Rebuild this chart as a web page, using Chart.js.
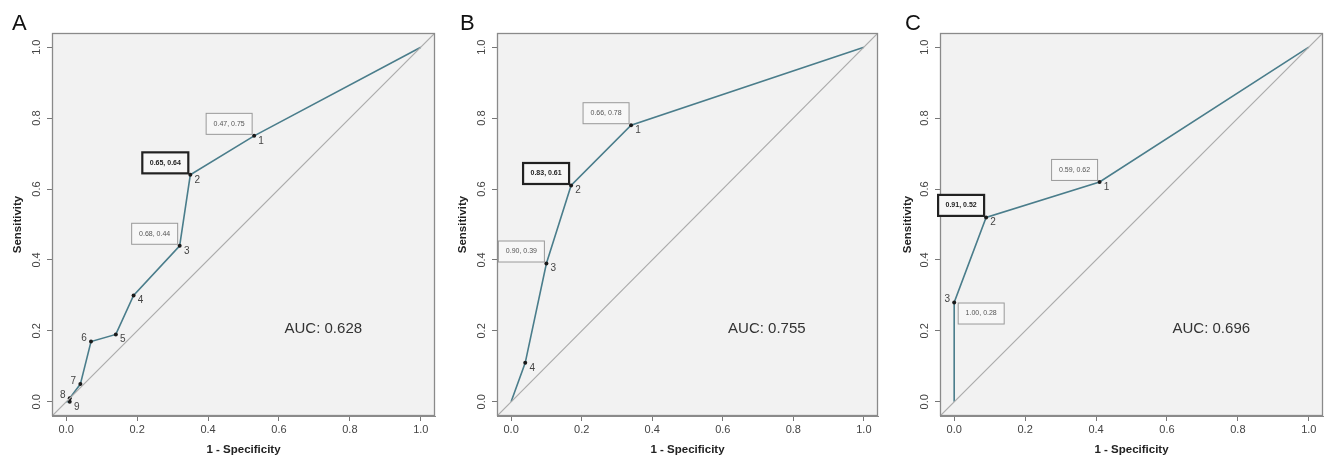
<!DOCTYPE html>
<html><head><meta charset="utf-8">
<script src="https://cdn.jsdelivr.net/npm/chart.js@4"></script>
<style>
html,body{margin:0;padding:0;background:#fff}
body{width:1333px;height:462px;overflow:hidden;position:relative}
.p{position:absolute;top:0;height:462px}
</style></head><body>
<div class="p" style="left:0;width:445px"><canvas id="cA"></canvas></div>
<div class="p" style="left:445px;width:445px"><canvas id="cB"></canvas></div>
<div class="p" style="left:890px;width:443px"><canvas id="cC"></canvas></div>
<script>
// ---- data ----
const tickValues = [0, 0.2, 0.4, 0.6, 0.8, 1.0];
const tickLabels = ['0.0', '0.2', '0.4', '0.6', '0.8', '1.0'];

// Panel A
const fprA = [0, 0.01, 0.01, 0.04, 0.07, 0.14, 0.19, 0.32, 0.35, 0.53, 1];
const tprA = [0, 0.00, 0.01, 0.05, 0.17, 0.19, 0.30, 0.44, 0.64, 0.75, 1];
const idsA = ['', '9', '8', '7', '6', '5', '4', '3', '2', '1', ''];
const thrA = ['0.47, 0.75', '0.65, 0.64', '0.68, 0.44'];
const aucA = '0.628';

// Panel B
const fprB = [0, 0.04, 0.10, 0.17, 0.34, 1];
const tprB = [0, 0.11, 0.39, 0.61, 0.78, 1];
const idsB = ['', '4', '3', '2', '1', ''];
const thrB = ['0.66, 0.78', '0.83, 0.61', '0.90, 0.39'];
const aucB = '0.755';

// Panel C
const fprC = [0, 0.00, 0.09, 0.41, 1];
const tprC = [0, 0.28, 0.52, 0.62, 1];
const idsC = ['', '3', '2', '1', ''];
const thrC = ['0.59, 0.62', '0.91, 0.52', '1.00, 0.28'];
const aucC = '0.696';

// ---- drawing ----
const LINE = '#4a7d8b';
const FONT = 'Arial, "Liberation Sans", sans-serif';

const rocPlugin = {
  id: 'roc',
  beforeDraw(chart, args, o) {
    const a = chart.chartArea, ctx = chart.ctx;
    ctx.save();
    ctx.fillStyle = '#f2f2f2';
    ctx.fillRect(a.left, a.top, a.right - a.left, a.bottom - a.top);
    ctx.restore();
  },
  afterDraw(chart, args, o) {
    const a = chart.chartArea, ctx = chart.ctx;
    const xs = chart.scales.x, ys = chart.scales.y;
    ctx.save();
    // box
    ctx.strokeStyle = '#8a8a8a'; ctx.lineWidth = 1.3;
    ctx.strokeRect(a.left + 0.5, a.top + 0.5, a.right - a.left - 1, a.bottom - a.top - 1);
    // rotated y tick labels (R style)
    ctx.fillStyle = '#444';
    ctx.font = '11px ' + FONT;
    ctx.textAlign = 'center'; ctx.textBaseline = 'middle';
    tickValues.forEach((v, i) => {
      ctx.save();
      ctx.translate(a.left - 15, ys.getPixelForValue(v));
      ctx.rotate(-Math.PI / 2);
      ctx.fillText(tickLabels[i], 0, 0);
      ctx.restore();
    });
    // panel letter
    ctx.fillStyle = '#111';
    ctx.font = '22px ' + FONT;
    ctx.textAlign = 'left'; ctx.textBaseline = 'alphabetic';
    ctx.fillText(o.letter, o.letterX, 30);
    // point numbers
    ctx.font = '10px ' + FONT;
    ctx.fillStyle = '#444';
    ctx.textAlign = 'center'; ctx.textBaseline = 'middle';
    o.fpr.forEach((f, i) => {
      const id = o.ids[i];
      if (!id) return;
      const px = xs.getPixelForValue(f), py = ys.getPixelForValue(o.tpr[i]);
      const left = (o.numLeft || []).includes(id);
      ctx.fillText(id, px + (left ? -7 : 7), py + (left ? -3 : 5));
    });
    // threshold boxes (points 1,2,3)
    o.thr.forEach((t, k) => {
      const id = String(k + 1);
      const i = o.ids.indexOf(id);
      const px = xs.getPixelForValue(o.fpr[i]), py = ys.getPixelForValue(o.tpr[i]);
      const lr = (o.boxLR || []).includes(id);
      const cx = px + (lr ? 27 : -25), cy = py + (lr ? 11 : -12);
      const w = 46, h = 21;
      const best = k === o.best;
      ctx.fillStyle = '#f7f7f7';
      ctx.fillRect(cx - w / 2, cy - h / 2, w, h);
      ctx.strokeStyle = best ? '#222' : '#999';
      ctx.lineWidth = best ? 2.2 : 1;
      ctx.strokeRect(cx - w / 2, cy - h / 2, w, h);
      ctx.fillStyle = best ? '#222' : '#555';
      ctx.font = (best ? 'bold ' : '') + '7px ' + FONT;
      ctx.fillText(t, cx, cy);
    });
    // AUC
    ctx.fillStyle = '#333';
    ctx.font = '15px ' + FONT;
    ctx.fillText('AUC: ' + o.auc, xs.getPixelForValue(0.725), ys.getPixelForValue(0.205));
    ctx.restore();
  }
};

function makeChart(id, fpr, tpr, ids, thr, auc, letter, letterX, extra, rightPad, leftW) {
  const pts = fpr.map((f, i) => ({ x: f, y: tpr[i] }));
  new Chart(document.getElementById(id), {
    type: 'scatter',
    data: {
      datasets: [
        {
          data: [{ x: -0.04, y: -0.04 }, { x: 1.04, y: 1.04 }],
          showLine: true, borderColor: '#ababab', borderWidth: 1.2, pointRadius: 0
        },
        {
          data: pts, showLine: true, borderColor: LINE, borderWidth: 1.6,
          pointRadius: ctx => ids[ctx.dataIndex] ? 2 : 0,
          pointBackgroundColor: '#1a1a1a', pointBorderWidth: 0
        }
      ]
    },
    options: {
      responsive: true, maintainAspectRatio: false, animation: false,
      layout: { padding: { top: 33, right: rightPad, left: 0, bottom: 0 } },
      plugins: {
        legend: { display: false }, tooltip: { enabled: false },
        roc: Object.assign({ fpr, tpr, ids, thr, auc, letter, letterX, best: 1 }, extra)
      },
      scales: {
        x: {
          type: 'linear', min: -0.04, max: 1.04,
          afterBuildTicks: s => { s.ticks = tickValues.map(v => ({ value: v })); },
          afterFit: s => { s.height = 46; },
          grid: { drawOnChartArea: false, drawTicks: true, tickLength: 5, color: '#777' },
          border: { display: true, color: '#8a8a8a' },
          ticks: { callback: (v, i) => tickLabels[i], color: '#444', font: { size: 11, family: FONT }, padding: 2, maxRotation: 0 },
          title: { display: true, text: '1 - Specificity', color: '#222', font: { size: 11.5, weight: 'bold', family: FONT }, padding: { top: 0, bottom: 5 } }
        },
        y: {
          type: 'linear', min: -0.04, max: 1.04,
          afterBuildTicks: s => { s.ticks = tickValues.map(v => ({ value: v })); },
          afterFit: s => { s.width = leftW; },
          grid: { drawOnChartArea: false, drawTicks: true, tickLength: 5, color: '#777' },
          border: { display: true, color: '#8a8a8a' },
          ticks: { display: false },
          title: { display: true, text: 'Sensitivity', color: '#222', font: { size: 11.5, weight: 'bold', family: FONT }, padding: { top: 11, bottom: 0 } }
        }
      }
    },
    plugins: [rocPlugin]
  });
}

makeChart('cA', fprA, tprA, idsA, thrA, aucA, 'A', 12, { numLeft: ['6', '7', '8'] }, 10, 52);
makeChart('cB', fprB, tprB, idsB, thrB, aucB, 'B', 15, {}, 12, 52);
makeChart('cC', fprC, tprC, idsC, thrC, aucC, 'C', 15, { numLeft: ['3'], boxLR: ['3'] }, 10, 50);
</script>
</body></html>
